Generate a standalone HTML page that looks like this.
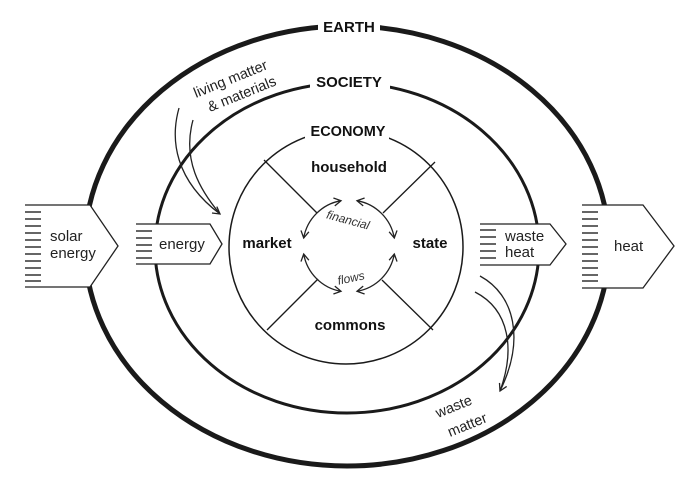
<!DOCTYPE html>
<html><head><style>
html,body{margin:0;padding:0;background:#fff;}
svg{display:block;font-family:"Liberation Sans",sans-serif;}
</style></head><body>
<svg width="700" height="486" viewBox="0 0 700 486">
<defs>
<marker id="ah" markerWidth="10" markerHeight="10" refX="8" refY="5" orient="auto-start-reverse" markerUnits="userSpaceOnUse">
<path d="M1,1 L8,5 L1,9" fill="none" stroke="#222" stroke-width="1.3"/>
</marker>
</defs>
<g fill="none" stroke="#1a1a1a">
<ellipse cx="347" cy="246" rx="262" ry="220" stroke-width="5"/>
<ellipse cx="347" cy="248" rx="192" ry="165" stroke-width="3"/>
<circle cx="346" cy="247" r="117" stroke-width="1.5"/>
<g stroke-width="1.3">
<line x1="264" y1="160" x2="317" y2="213"/>
<line x1="435" y1="162" x2="383" y2="213"/>
<line x1="267" y1="330" x2="318" y2="279"/>
<line x1="433" y1="330" x2="382" y2="280"/>
</g>
</g>
<rect x="318" y="15" width="62" height="22" fill="#fff"/>
<rect x="310" y="70" width="80" height="22" fill="#fff"/>
<rect x="305" y="120" width="84" height="20" fill="#fff"/>
<g fill="none" stroke="#222" stroke-width="1.3">
<path d="M341,200.7 A46,46 0 0 0 303.7,238" marker-end="url(#ah)" marker-start="url(#ah)"/>
<path d="M357,200.7 A46,46 0 0 1 394.3,238" marker-end="url(#ah)" marker-start="url(#ah)"/>
<path d="M303.7,254 A46,46 0 0 0 341,291.3" marker-end="url(#ah)" marker-start="url(#ah)"/>
<path d="M357,291.3 A46,46 0 0 0 394.3,254" marker-end="url(#ah)" marker-start="url(#ah)"/>
</g>
<g fill="#111" font-weight="bold" text-anchor="middle" font-size="15">
<text x="349" y="32">EARTH</text>
<text x="349" y="87">SOCIETY</text>
<text x="348" y="136" font-size="14.5">ECONOMY</text>
<text x="349" y="172">household</text>
<text x="267" y="248">market</text>
<text x="430" y="248">state</text>
<text x="350" y="330">commons</text>
</g>
<g fill="#333" font-size="12" font-style="italic" text-anchor="middle">
<text x="348" y="224" transform="rotate(15 348 220)">financial</text>
<text x="351" y="282" transform="rotate(-12 351 278)">flows</text>
</g>
<g fill="#fff" stroke="#222" stroke-width="1.3">
<path d="M25,205 H90 L118,246 L90,287 H25"/>
<path d="M136,224 H210 L222,244 L210,264 H136"/>
<path d="M480,224 H550 L566,244 L550,265 H480"/>
<path d="M582,205 H643 L674,246 L643,288 H582"/>
</g>
<g stroke="#333" stroke-width="1.6">
<path d="M25,212h16M25,219h16M25,226h16M25,233h16M25,240h16M25,247h16M25,254h16M25,261h16M25,268h16M25,275h16M25,281h16"/>
<path d="M136,231h16M136,238h16M136,245h16M136,251h16M136,258h16"/>
<path d="M480,230h16M480,237h16M480,244h16M480,251h16M480,258h16"/>
<path d="M582,212h16M582,219h16M582,226h16M582,233h16M582,240h16M582,247h16M582,254h16M582,261h16M582,268h16M582,275h16M582,281h16"/>
</g>
<g fill="#222" font-size="15">
<text x="50" y="241">solar</text>
<text x="50" y="258">energy</text>
<text x="159" y="249">energy</text>
<text x="505" y="241">waste</text>
<text x="505" y="257">heat</text>
<text x="614" y="251">heat</text>
</g>
<g fill="none" stroke="#222" stroke-width="1.3">
<path d="M179,108 C170,140 175,180 220,214" marker-end="url(#ah)"/>
<path d="M193,120 C182,160 200,190 220,214"/>
<path d="M480,276 C515,295 525,340 500,391" marker-end="url(#ah)"/>
<path d="M475,292 C510,310 515,350 500,391"/>
</g>
<g fill="#222" font-size="14.5">
<text x="196" y="98" transform="rotate(-22 196 98)">living matter</text>
<text x="210" y="112" transform="rotate(-22 210 112)">&amp; materials</text>
<text x="438" y="418" transform="rotate(-22 438 418)">waste</text>
<text x="450" y="437" transform="rotate(-22 450 437)">matter</text>
</g>
</svg>
</body></html>
